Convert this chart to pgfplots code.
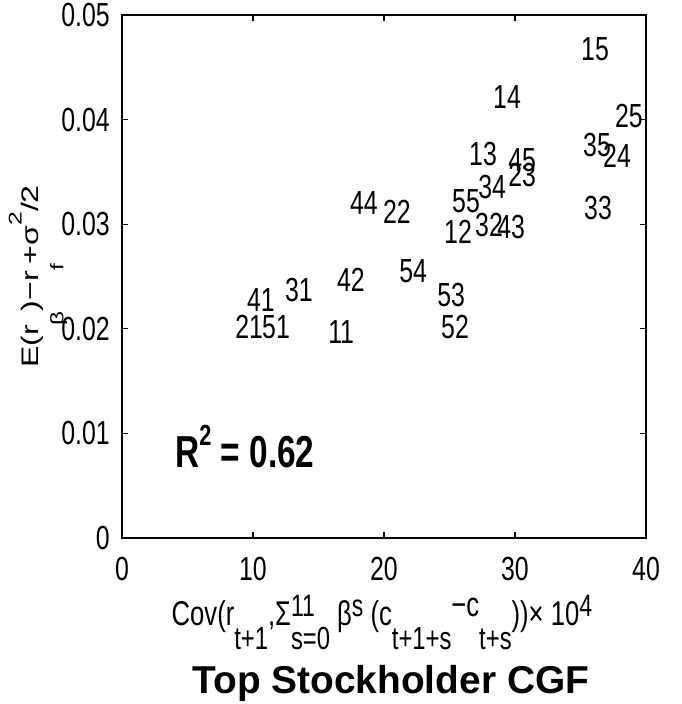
\documentclass[border=0pt]{standalone}
\usepackage{fontspec}
\setmainfont{Liberation Sans}[FakeStretch=0.745]
\newfontfamily\rotfont{Liberation Sans}[FakeStretch=1.34]
\newfontfamily\titlefont{Liberation Sans}
\usepackage{pgfplots}
\pgfplotsset{compat=1.18}
\newcommand\xsub[1]{\raisebox{-0.7em}{\scalebox{0.93}{#1}}}
\newcommand\xsup[1]{\raisebox{0.28em}{\scalebox{0.9}{#1}}}
\newcommand\ysub[1]{\raisebox{-1.06em}{\scalebox{0.76}{#1}}}
\newcommand\ysup[1]{\raisebox{0.68em}{\scalebox{0.77}{#1}}}
\pgfplotstableread{
x y label
35.04 0.04675 15
28.32 0.04216 14
37.63 0.04034 25
35.19 0.03757 35
36.72 0.03652 24
26.49 0.03671 13
29.47 0.03614 45
29.47 0.03470 23
27.18 0.03356 34
25.19 0.03222 55
17.40 0.03203 44
19.92 0.03117 22
35.27 0.03155 33
24.58 0.02925 12
26.95 0.02992 32
28.63 0.02973 43
21.15 0.02553 54
16.41 0.02467 42
12.44 0.02371 31
9.54 0.02275 41
24.05 0.02323 53
8.63 0.02017 21
10.69 0.02017 51
15.73 0.01969 11
24.35 0.02017 52
}\datatable
\begin{document}
\begin{tikzpicture}
\begin{axis}[
  at={(0,0)}, anchor=south west,
  scale only axis, width=524bp, height=523bp,
  xmin=0, xmax=40, ymin=0, ymax=0.05,
  xtick={0,10,20,30,40}, xticklabels={0,10,20,30,40},
  ytick={0,0.01,0.02,0.03,0.04,0.05},
  yticklabels={0,0.01,0.02,0.03,0.04,0.05},
  tick align=inside, major tick length=6bp,
  axis line style={line width=1.5bp},
  every tick/.style={black, line width=1.2bp},
  tick label style={font=\fontsize{33.5}{38}\selectfont, inner sep=0pt},
  xticklabel style={anchor=north, yshift=-19bp},
  yticklabel style={anchor=east, xshift=-12bp},
  xlabel={Cov(r\xsub{t+1},Σ\makebox[0pt][l]{\xsup{11}}\xsub{s=0} β\xsup{s} (c\xsub{t+1+s}\raisebox{0.28em}{−c}\xsub{t+s}))× 10\xsup{4}},
  xlabel style={at={(axis description cs:0.496,-0.168)}, anchor=base, inner sep=0pt, font=\fontsize{34.5}{39}\selectfont},
  ylabel={\rotfont E(r\ysub{β})−r\ysub{f}+σ\ysup{2}/2},
  ylabel style={at={(axis description cs:-0.1603,0.5)}, anchor=base, inner sep=0pt, font=\fontsize{24}{28}\selectfont},
  clip=false,
]
\addplot[draw=none, mark=none, nodes near coords, point meta=explicit symbolic,
  nodes near coords align={horizontal},
  every node near coord/.append style={anchor=west, inner sep=0pt, font=\fontsize{33.5}{38}\selectfont, black}]
  table[x=x, y=y, meta=label] {\datatable};
\node[anchor=west, inner sep=0pt, font=\bfseries\fontsize{45}{52}\selectfont] at (axis cs:4.05,0.0087) {R\raisebox{0.49em}{\scalebox{0.65}{2}} = 0.62};
\node[anchor=base, inner sep=0pt, font=\titlefont\bfseries\fontsize{39}{46}\selectfont] at (axis description cs:0.513,-0.2964) {Top Stockholder CGF};
\end{axis}
\pgfresetboundingbox
\path (-122bp,-166bp) rectangle (560bp,538bp);
\end{tikzpicture}
\end{document}
